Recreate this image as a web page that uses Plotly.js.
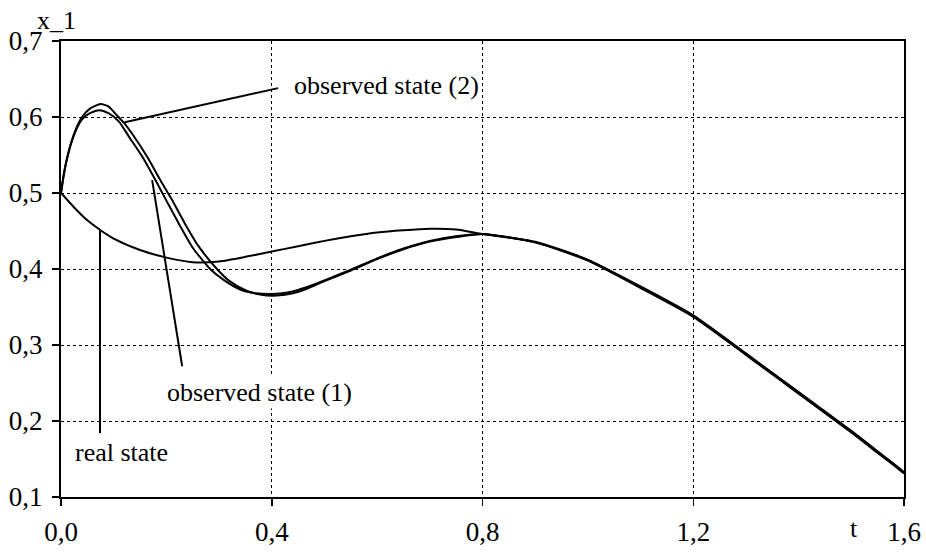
<!DOCTYPE html>
<html>
<head>
<meta charset="utf-8">
<script src="https://cdn.plot.ly/plotly-3.0.1.min.js"></script>
<style>
html,body{margin:0;padding:0;background:#fff;}
#chart{width:926px;height:552px;}
</style>
</head>
<body>
<div id="chart"></div>
<script>
// real state
var tReal = [0, 0.025, 0.05, 0.075, 0.1, 0.15, 0.2, 0.25, 0.3, 0.35, 0.4, 0.45, 0.5, 0.55, 0.6, 0.65, 0.7, 0.75, 0.8, 0.9, 1.0, 1.1, 1.2, 1.3, 1.4, 1.5, 1.55, 1.58, 1.6];
var xReal = [0.5, 0.481, 0.464, 0.451, 0.440, 0.425, 0.415, 0.409, 0.410, 0.416, 0.423, 0.430, 0.437, 0.443, 0.448, 0.451, 0.453, 0.452, 0.446, 0.436, 0.412, 0.376, 0.338, 0.288, 0.237, 0.186, 0.159, 0.143, 0.132];

// observed state (1)
var tObs1 = [0, 0.005, 0.01, 0.02, 0.03, 0.04, 0.055, 0.073, 0.09, 0.11, 0.13, 0.155, 0.18, 0.2, 0.225, 0.25, 0.283, 0.31, 0.34, 0.37, 0.4, 0.43, 0.47, 0.5, 0.55, 0.6, 0.65, 0.7, 0.75, 0.8, 0.9, 1.0, 1.1, 1.2, 1.3, 1.4, 1.5, 1.55, 1.58, 1.6];
var xObs1 = [0.5, 0.523, 0.541, 0.567, 0.585, 0.597, 0.605, 0.609, 0.605, 0.594, 0.573, 0.547, 0.516, 0.490, 0.458, 0.428, 0.400, 0.385, 0.373, 0.368, 0.367, 0.369, 0.377, 0.385, 0.399, 0.414, 0.427, 0.437, 0.443, 0.446, 0.435, 0.411, 0.375, 0.337, 0.287, 0.236, 0.185, 0.158, 0.142, 0.131];

// observed state (2)
var tObs2 = [0, 0.005, 0.01, 0.02, 0.03, 0.04, 0.055, 0.075, 0.09, 0.105, 0.12, 0.137, 0.165, 0.19, 0.209, 0.235, 0.26, 0.296, 0.32, 0.35, 0.38, 0.41, 0.44, 0.47, 0.5, 0.55, 0.6, 0.65, 0.7, 0.75, 0.8, 0.9, 1.0, 1.1, 1.2, 1.3, 1.4, 1.5, 1.55, 1.58, 1.6];
var xObs2 = [0.5, 0.523, 0.541, 0.568, 0.587, 0.600, 0.611, 0.617, 0.614, 0.603, 0.592, 0.576, 0.546, 0.515, 0.493, 0.460, 0.431, 0.400, 0.384, 0.372, 0.366, 0.365, 0.368, 0.375, 0.384, 0.398, 0.413, 0.426, 0.436, 0.442, 0.446, 0.435, 0.412, 0.377, 0.339, 0.289, 0.238, 0.187, 0.160, 0.144, 0.133];

var xTickVals = [0, 0.4, 0.8, 1.2, 1.6];
var yTickVals = [0.1, 0.2, 0.3, 0.4, 0.5, 0.6, 0.7];

var FONT = 'Liberation Serif, Times New Roman, serif';
var lineStyle = {color: '#000', width: 2, shape: 'spline', smoothing: 0.6};

var traces = [
  {x: tReal, y: xReal, mode: 'lines', line: lineStyle, name: 'real state', hoverinfo: 'skip'},
  {x: tObs1, y: xObs1, mode: 'lines', line: lineStyle, name: 'observed state (1)', hoverinfo: 'skip'},
  {x: tObs2, y: xObs2, mode: 'lines', line: lineStyle, name: 'observed state (2)', hoverinfo: 'skip'}
];

var axisCommon = {
  showline: true, mirror: true, linecolor: '#000', linewidth: 2,
  showgrid: true, gridcolor: '#000', gridwidth: 1, griddash: 'dot',
  zeroline: false, ticks: 'outside', ticklen: 7, tickwidth: 1.5, tickcolor: '#000',
  tickfont: {family: FONT, size: 27, color: '#000'},
  tickformat: '.1f', fixedrange: true
};

var layout = {
  width: 926, height: 552,
  margin: {l: 61, r: 22, t: 41, b: 55},
  paper_bgcolor: '#fff', plot_bgcolor: '#fff',
  separators: ',.',
  showlegend: false,
  font: {family: FONT, size: 26, color: '#000'},
  xaxis: Object.assign({}, axisCommon, {range: [0, 1.6], tickvals: xTickVals, ticklabelstandoff: 3}),
  yaxis: Object.assign({}, axisCommon, {range: [0.1, 0.7], tickvals: yTickVals, ticklabelstandoff: 4}),
  annotations: [
    {xref: 'paper', yref: 'paper', x: -0.005, y: 1.045, xanchor: 'center', yanchor: 'middle', text: 'x_1', showarrow: false, font: {family: FONT, size: 26}},
    {xref: 'paper', yref: 'paper', x: 0.941, y: -0.07, xanchor: 'center', yanchor: 'middle', text: 't', showarrow: false, font: {family: FONT, size: 26}},
    {xref: 'x', yref: 'y', x: 0.618, y: 0.642, xanchor: 'center', yanchor: 'middle', text: 'observed state (2)', showarrow: false, bgcolor: '#fff', font: {family: FONT, size: 26}},
    {xref: 'x', yref: 'y', x: 0.377, y: 0.238, xanchor: 'center', yanchor: 'middle', text: 'observed state (1)', showarrow: false, bgcolor: '#fff', font: {family: FONT, size: 26}},
    {xref: 'x', yref: 'y', x: 0.114, y: 0.158, xanchor: 'center', yanchor: 'middle', text: 'real state', showarrow: false, bgcolor: '#fff', font: {family: FONT, size: 26}}
  ],
  shapes: [
    {type: 'line', xref: 'x', yref: 'y', x0: 0.121, y0: 0.593, x1: 0.412, y1: 0.638, line: {color: '#000', width: 2}},
    {type: 'line', xref: 'x', yref: 'y', x0: 0.173, y0: 0.517, x1: 0.230, y1: 0.272, line: {color: '#000', width: 2}},
    {type: 'line', xref: 'x', yref: 'y', x0: 0.074, y0: 0.451, x1: 0.074, y1: 0.184, line: {color: '#000', width: 2}}
  ]
};

Plotly.newPlot('chart', traces, layout, {displayModeBar: false, staticPlot: true});
</script>
</body>
</html>
